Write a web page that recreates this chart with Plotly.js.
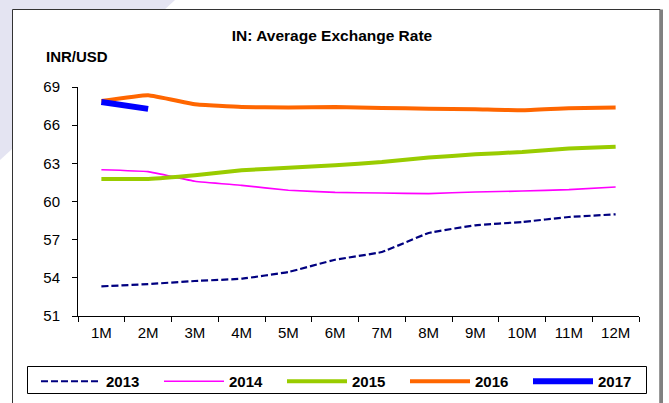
<!DOCTYPE html>
<html>
<head>
<meta charset="utf-8">
<script src="https://cdn.plot.ly/plotly-3.0.1.min.js"></script>
<style>
  html, body { margin: 0; padding: 0; background: #ffffff; }
  #chart { width: 669px; height: 403px; }
</style>
</head>
<body>
<div id="chart"></div>
<script>
// Month-of-year categories
const months = ['1M', '2M', '3M', '4M', '5M', '6M', '7M', '8M', '9M', '10M', '11M', '12M'];

// Average INR/USD rate by month, one array per year
const y2013 = [53.33, 53.51, 53.75, 53.93, 54.46, 55.42, 56.03, 57.52, 58.13, 58.39, 58.78, 58.99];
const y2014 = [62.50, 62.35, 61.59, 61.27, 60.88, 60.72, 60.67, 60.62, 60.75, 60.82, 60.93, 61.14];
const y2015 = [61.77, 61.77, 62.06, 62.45, 62.66, 62.84, 63.10, 63.45, 63.71, 63.89, 64.16, 64.31];
const y2016 = [67.90, 68.35, 67.64, 67.43, 67.38, 67.43, 67.35, 67.30, 67.25, 67.17, 67.33, 67.38];
const y2017 = [67.82, 67.28];

const yTicks = [51, 54, 57, 60, 63, 66, 69];

const FONT = 'Liberation Sans, Arial, sans-serif';

// Plot area in pixels (used to place decorations in paper units)
const W = 669, H = 403;
const M = { l: 78, r: 30, t: 87, b: 87, autoexpand: false };
const PW = W - M.l - M.r, PH = H - M.t - M.b;
const px = x => (x - M.l) / PW;
const py = y => (H - M.b - y) / PH;

function series(name, values, color, width, dash) {
  return {
    type: 'scatter',
    mode: 'lines',
    name: name,
    x: months.slice(0, values.length),
    y: values,
    line: { color: color, width: width, dash: dash || 'solid', shape: 'spline', smoothing: 0.3 },
    hoverinfo: 'x+y+name'
  };
}

const traces = [
  series('2013', y2013, '#000080', 2.2, '7px,3px'),
  series('2014', y2014, '#FF00FF', 1.6),
  series('2015', y2015, '#99CC00', 4),
  series('2016', y2016, '#FF6600', 4),
  series('2017', y2017, '#0000FF', 6)
];

const layout = {
  width: W,
  height: H,
  margin: M,
  paper_bgcolor: '#ffffff',
  plot_bgcolor: 'rgba(0,0,0,0)',
  font: { family: FONT, size: 15, color: '#000000' },
  showlegend: true,
  title: {
    text: '<b>IN: Average Exchange Rate</b>',
    font: { family: FONT, size: 15.5, color: '#000000' },
    xref: 'container', x: 332 / W, xanchor: 'center',
    yref: 'container', y: 1 - 36 / H, yanchor: 'middle'
  },
  xaxis: {
    type: 'category',
    categoryorder: 'array',
    categoryarray: months,
    range: [-0.5, 11.5],
    tickson: 'boundaries',
    ticks: 'outside',
    ticklen: 5,
    ticklabelstandoff: 3,
    tickcolor: '#000000',
    showline: true,
    linecolor: '#000000',
    linewidth: 1,
    showgrid: false,
    zeroline: false,
    tickfont: { family: FONT, size: 15, color: '#000000' },
    fixedrange: true
  },
  yaxis: {
    range: [51, 69],
    tickvals: yTicks,
    ticktext: yTicks.map(String),
    ticks: 'outside',
    ticklen: 5,
    ticklabelstandoff: 9,
    tickcolor: '#000000',
    showline: true,
    linecolor: '#000000',
    linewidth: 1,
    showgrid: false,
    zeroline: false,
    tickfont: { family: FONT, size: 15, color: '#000000' },
    fixedrange: true
  },
  legend: {
    orientation: 'h',
    xref: 'paper', x: px(36), xanchor: 'left',
    yref: 'paper', y: py(365), yanchor: 'top',
    borderwidth: 0,
    bgcolor: 'rgba(0,0,0,0)',
    itemwidth: 60,
    entrywidth: 48,
    entrywidthmode: 'pixels',
    traceorder: 'normal',
    font: { family: FONT, size: 15, color: '#000000', weight: 'bold' }
  },
  annotations: [{
    text: '<b>INR/USD</b>',
    xref: 'paper', x: px(44), xanchor: 'left',
    yref: 'paper', y: py(56), yanchor: 'middle',
    showarrow: false,
    font: { family: FONT, size: 15, color: '#000000' }
  }],
  shapes: [
    // pale corner wedge behind the frame
    {
      type: 'path', layer: 'below', xref: 'paper', yref: 'paper',
      path: 'M ' + px(0) + ' ' + py(0) + ' L ' + px(175) + ' ' + py(0) + ' L ' + px(0) + ' ' + py(160) + ' Z',
      fillcolor: '#e4e4f2', line: { width: 0 }
    },
    // chart frame
    {
      type: 'rect', layer: 'below', xref: 'paper', yref: 'paper',
      x0: px(12.5), x1: px(660), y0: py(410), y1: py(9.5),
      fillcolor: '#ffffff', line: { color: '#333333', width: 1 }
    },
    // heavier right edge of the frame
    {
      type: 'line', layer: 'below', xref: 'paper', yref: 'paper',
      x0: px(661.5), x1: px(661.5), y0: py(410), y1: py(9.5),
      line: { color: '#808080', width: 3 }
    },
    // legend box
    {
      type: 'rect', layer: 'above', xref: 'paper', yref: 'paper',
      x0: px(27.5), x1: px(646.5), y0: py(393.5), y1: py(366.5),
      fillcolor: 'rgba(0,0,0,0)', line: { color: '#000000', width: 1 }
    }
  ]
};

Plotly.newPlot('chart', traces, layout, { displayModeBar: false, staticPlot: true });
</script>
</body>
</html>
